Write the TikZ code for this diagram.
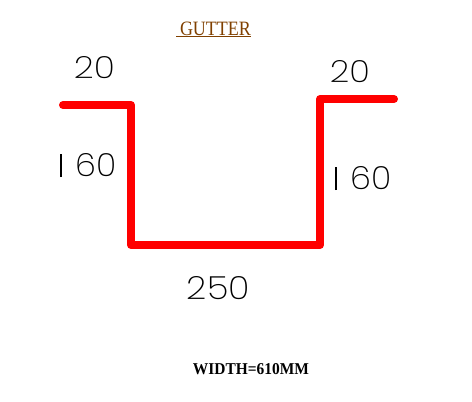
\documentclass[tikz,border=0pt]{standalone}
\usepackage{fontspec}
\usepackage{graphicx}
\setmainfont{Liberation Serif}
\newfontfamily\digitfont{Poppins ExtraLight}
\newcommand{\fitdim}[3]{\resizebox{#1pt}{#2pt}{\digitfont #3}}
\definecolor{gutterred}{RGB}{255,0,0}
\definecolor{titlebrown}{RGB}{128,64,0}
\tikzset{
  profile/.style={draw=gutterred,line width=8pt,line cap=round,line join=round},
  dimlabel/.style={inner sep=0pt,outer sep=0pt,text=black},
  titlelabel/.style={inner sep=0pt,outer sep=0pt,text=titlebrown,font=\fontsize{15.5}{16}\selectfont},
  notelabel/.style={inner sep=0pt,outer sep=0pt,text=black,font=\bfseries}
}
\begin{document}
\begin{tikzpicture}[x=1pt,y=-1pt]
\useasboundingbox (0,0) rectangle (472,402);
\coordinate (a) at (63,105);
\coordinate (b) at (131,105);
\coordinate (c) at (131,245);
\coordinate (d) at (320,245);
\coordinate (e) at (320,99);
\coordinate (f) at (394,99);
\draw[profile] (a) -- (b) -- (c) -- (d) -- (e) -- (f);
\node[titlelabel,anchor=base west] (title) at (176,35) {\underline{\hspace{4pt}\resizebox{71pt}{13.5pt}{GUTTER}}};
\node[dimlabel] (t1) at (94.5,68) {\fitdim{41}{22}{20}};
\node[dimlabel] (t2) at (350,72) {\fitdim{40}{22}{20}};
\node[dimlabel] (l1) at (61,165.5) {\rule{1.2pt}{23pt}};
\node[dimlabel] (l2) at (96.5,165.5) {\fitdim{41}{23}{60}};
\node[dimlabel] (r1) at (336,178.5) {\rule{1.2pt}{23pt}};
\node[dimlabel] (r2) at (371.5,178.5) {\fitdim{41}{23}{60}};
\node[dimlabel] (bot) at (218.5,288.5) {\fitdim{63}{23}{250}};
\node[notelabel] (note) at (251,369.5) {\resizebox{116pt}{11pt}{WIDTH=610MM}};
\end{tikzpicture}
\end{document}
